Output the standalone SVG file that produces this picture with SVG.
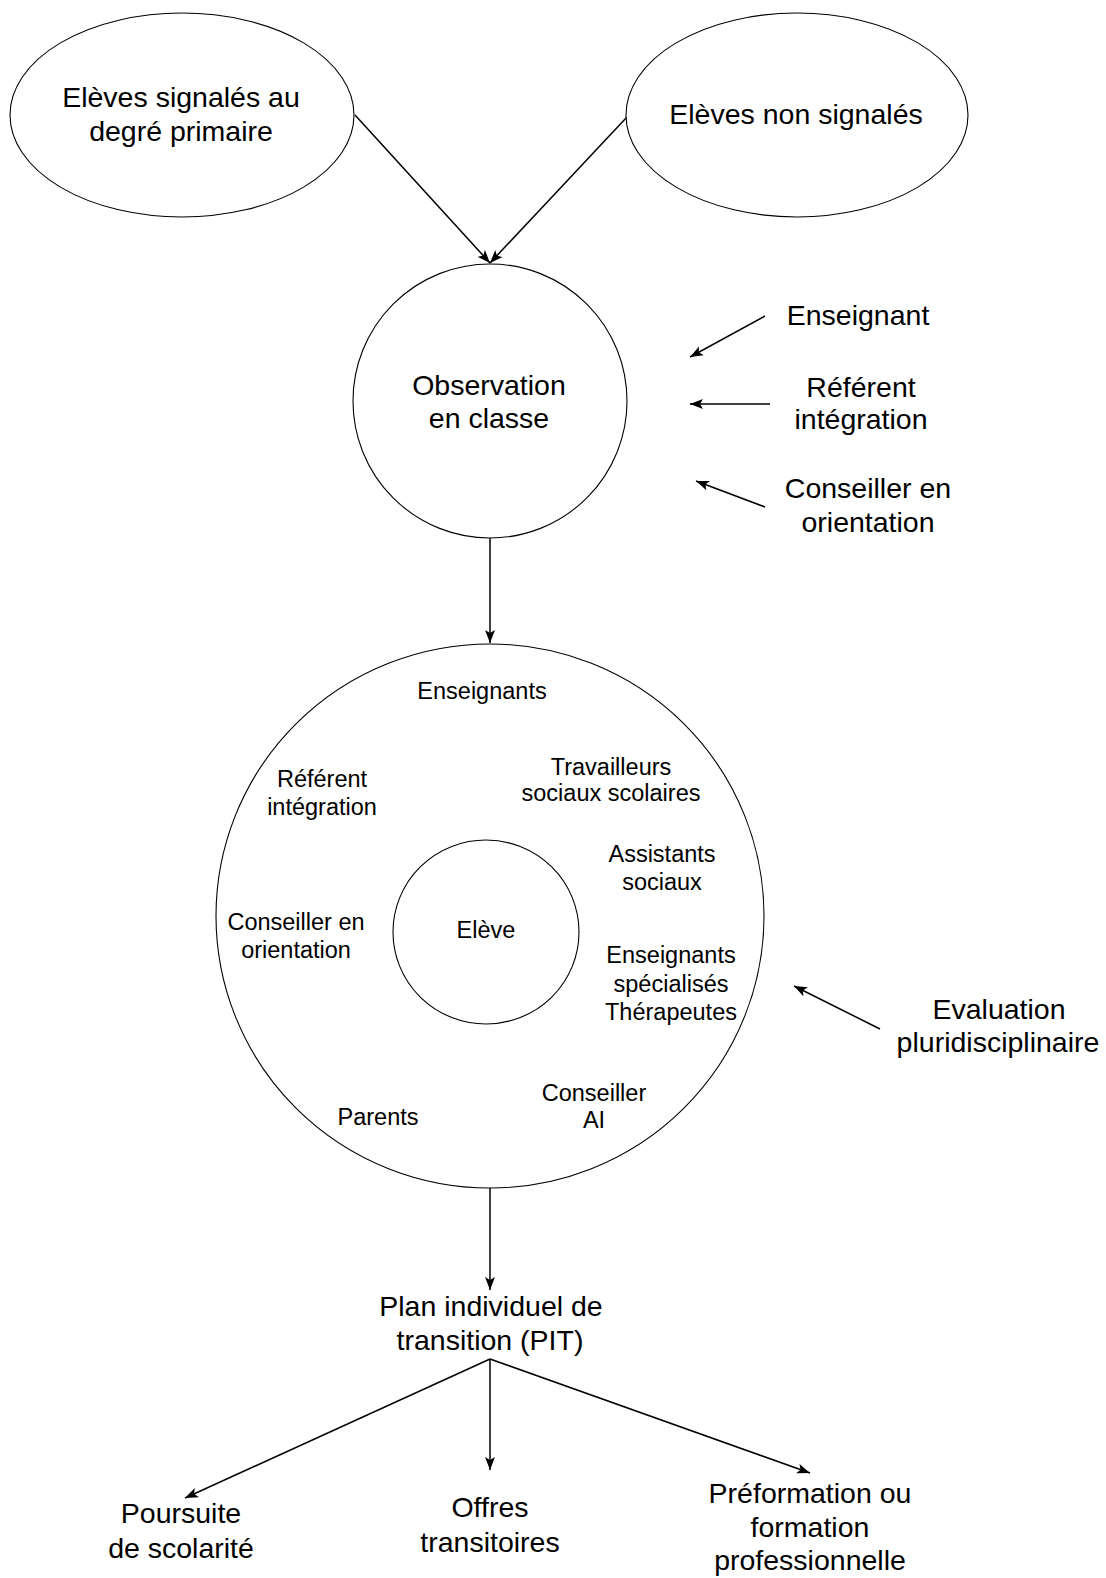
<svg xmlns="http://www.w3.org/2000/svg" width="1106" height="1578" viewBox="0 0 1106 1578">
<style>
.shape{fill:#fff;stroke:#000;stroke-width:1.1}
.edge{fill:none;stroke:#000;stroke-width:1.5}
.big{font-family:"Liberation Sans",Arial,sans-serif;font-size:28.5px;fill:#000;text-anchor:middle}
.small{font-family:"Liberation Sans",Arial,sans-serif;font-size:23.5px;fill:#000;text-anchor:middle}
</style>
<defs>
<marker id="arr" viewBox="0 0 13 11" refX="13" refY="5.5" markerWidth="13" markerHeight="11" markerUnits="userSpaceOnUse" orient="auto">
<path d="M0,0.5 L13,5.5 L0,10.5 L3,5.5 z" fill="#000"/>
</marker>
</defs>
<rect width="1106" height="1578" fill="#fff"/>
<g id="connectors">
<line class="edge" x1="355" y1="115" x2="490" y2="263" marker-end="url(#arr)"/>
<line class="edge" x1="627" y1="117" x2="490" y2="263" marker-end="url(#arr)"/>
<line class="edge" x1="765" y1="316" x2="690" y2="357" marker-end="url(#arr)"/>
<line class="edge" x1="770" y1="404" x2="690" y2="404" marker-end="url(#arr)"/>
<line class="edge" x1="765" y1="507" x2="696" y2="481" marker-end="url(#arr)"/>
<line class="edge" x1="490" y1="538" x2="490" y2="643" marker-end="url(#arr)"/>
<line class="edge" x1="880" y1="1029" x2="794" y2="986" marker-end="url(#arr)"/>
<line class="edge" x1="490" y1="1187" x2="490" y2="1290" marker-end="url(#arr)"/>
<line class="edge" x1="490" y1="1359" x2="185" y2="1498" marker-end="url(#arr)"/>
<line class="edge" x1="490" y1="1359" x2="490" y2="1470" marker-end="url(#arr)"/>
<line class="edge" x1="490" y1="1359" x2="810" y2="1473" marker-end="url(#arr)"/>
</g>
<g id="signales">
<ellipse class="shape" cx="182" cy="115" rx="172" ry="102"/>
<text class="big" x="181" y="107">Elèves signalés au</text>
<text class="big" x="181" y="141">degré primaire</text>
</g>
<g id="nonsignales">
<ellipse class="shape" cx="797" cy="115" rx="171" ry="102"/>
<text class="big" x="796" y="124">Elèves non signalés</text>
</g>
<g id="observation">
<ellipse class="shape" cx="490" cy="401" rx="137" ry="137"/>
<text class="big" x="489" y="395">Observation</text>
<text class="big" x="489" y="428">en classe</text>
</g>
<g id="enseignant">
<text class="big" x="858" y="325">Enseignant</text>
</g>
<g id="referent">
<text class="big" x="861" y="397">Référent</text>
<text class="big" x="861" y="429">intégration</text>
</g>
<g id="conseiller">
<text class="big" x="868" y="498">Conseiller en</text>
<text class="big" x="868" y="532">orientation</text>
</g>
<g id="evaluation-circle">
<ellipse class="shape" cx="490" cy="916" rx="274" ry="272"/>
<text class="small" x="482" y="699">Enseignants</text>
<text class="small" x="611" y="775">Travailleurs</text>
<text class="small" x="611" y="801">sociaux scolaires</text>
<text class="small" x="322" y="787">Référent</text>
<text class="small" x="322" y="815">intégration</text>
<text class="small" x="662" y="862">Assistants</text>
<text class="small" x="662" y="890">sociaux</text>
<text class="small" x="296" y="930">Conseiller en</text>
<text class="small" x="296" y="958">orientation</text>
<text class="small" x="671" y="963">Enseignants</text>
<text class="small" x="671" y="992">spécialisés</text>
<text class="small" x="671" y="1020">Thérapeutes</text>
<text class="small" x="378" y="1125">Parents</text>
<text class="small" x="594" y="1101">Conseiller</text>
<text class="small" x="594" y="1128">AI</text>
</g>
<g id="eleve">
<ellipse class="shape" cx="486" cy="932" rx="93" ry="92"/>
<text class="small" x="486" y="938">Elève</text>
</g>
<g id="evaluation">
<text class="big" x="999" y="1019">Evaluation</text>
<text class="big" x="998" y="1052">pluridisciplinaire</text>
</g>
<g id="pit">
<text class="big" x="491" y="1316">Plan individuel de</text>
<text class="big" x="490" y="1350">transition (PIT)</text>
</g>
<g id="poursuite">
<text class="big" x="181" y="1523">Poursuite</text>
<text class="big" x="181" y="1558">de scolarité</text>
</g>
<g id="offres">
<text class="big" x="490" y="1517">Offres</text>
<text class="big" x="490" y="1552">transitoires</text>
</g>
<g id="preformation">
<text class="big" x="810" y="1503">Préformation ou</text>
<text class="big" x="810" y="1537">formation</text>
<text class="big" x="810" y="1570">professionnelle</text>
</g>
</svg>
